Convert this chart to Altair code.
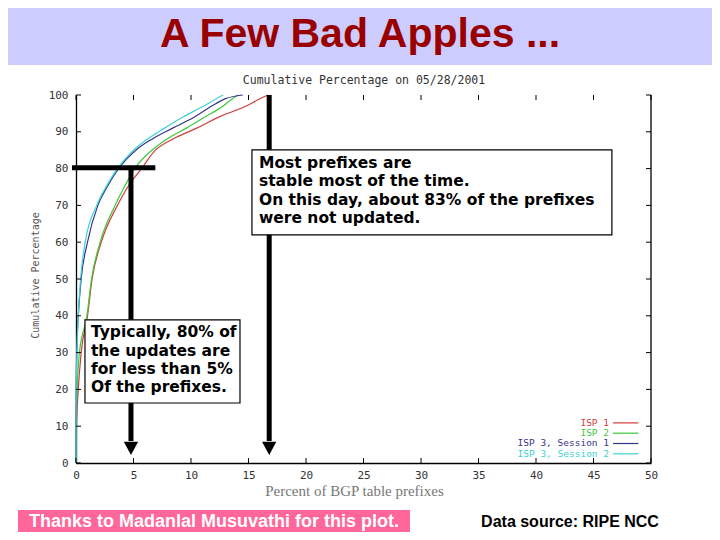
import altair as alt
import pandas as pd

# ---------------- data ----------------
slide_title = "A Few Bad Apples ..."
plot_title = "Cumulative Percentage on 05/28/2001"
x_title = "Percent of BGP table prefixes"
y_title = "Cumulative Percentage"
credit_text = "Thanks to Madanlal Musuvathi for this plot."
source_text = "Data source: RIPE NCC"

series_names = ["ISP 1", "ISP 2", "ISP 3, Session 1", "ISP 3, Session 2"]
series_colors = ["#d03c3c", "#3cc83c", "#34348c", "#3cd2d2"]

x_ticks = [0, 5, 10, 15, 20, 25, 30, 35, 40, 45, 50]
y_ticks = [0, 10, 20, 30, 40, 50, 60, 70, 80, 90, 100]

cum_levels = [0, 10, 20, 30, 40, 50, 60, 70, 75, 80, 85, 88, 91, 94, 97, 99, 100]
isp1_pct = [0.0, 0.05, 0.2, 0.45, 1.0, 1.4, 2.2, 3.6, 4.5, 5.7, 6.9, 8.4, 10.5, 12.4, 14.8, 16.0, 16.7]
isp2_pct = [0.0, 0.01, 0.1, 0.3, 0.95, 1.35, 2.1, 3.4, 4.2, 5.1, 6.6, 7.9, 9.6, 11.2, 12.8, 13.6, 14.1]
isp3s1_pct = [0.0, 0.005, 0.02, 0.06, 0.2, 0.45, 1.0, 1.9, 2.7, 3.7, 5.2, 6.6, 8.4, 10.3, 11.8, 13.0, 14.5]
isp3s2_pct = [0.0, 0.004, 0.02, 0.08, 0.2, 0.4, 0.8, 1.8, 2.6, 3.6, 5.0, 6.2, 7.7, 9.3, 11.1, 12.2, 12.8]

note_top = ["Most prefixes are", "stable most of the time.",
            "On this day, about 83% of the prefixes", "were not updated."]
note_bottom = ["Typically, 80% of", "the updates are", "for less than 5%", "Of the prefixes."]

# ---------------- tables ----------------
rows = []
for name, pcts in zip(series_names, [isp1_pct, isp2_pct, isp3s1_pct, isp3s2_pct]):
    for i, (c, p) in enumerate(zip(cum_levels, pcts)):
        rows.append({"series": name, "pct": p, "cum": c, "step": i})
curves = pd.DataFrame(rows)

legend_df = pd.DataFrame({
    "series": series_names,
    "pct": [46.35] * 4,
    "pct_a": [46.7] * 4,
    "pct_b": [48.9] * 4,
    "cum": [10.9 - 2.8 * i for i in range(4)],
})

W, H = 575, 368
xsc = alt.Scale(domain=[0, 50], nice=False, zero=False)
ysc = alt.Scale(domain=[0, 100], nice=False, zero=False)
csc = alt.Scale(domain=series_names, range=series_colors)

x_axis = alt.Axis(values=x_ticks, title=x_title, ticks=False, grid=False,
                  domainColor="black", domainWidth=1.3,
                  labelFont="DejaVu Sans Mono", labelFontSize=11, labelColor="#333",
                  labelPadding=6, labelFlush=False,
                  titleFont="Liberation Serif", titleFontSize=15, titleFontWeight="normal",
                  titleColor="#777", titleX=278, titleY=27, titleBaseline="middle",
                  titleAlign="center")
y_axis = alt.Axis(values=y_ticks, title=y_title, ticks=False, grid=False,
                  domainColor="black", domainWidth=1.3,
                  labelFont="DejaVu Sans Mono", labelFontSize=11, labelColor="#333",
                  labelPadding=8, labelFlush=False,
                  titleFont="DejaVu Sans Mono", titleFontSize=10, titleFontWeight="normal",
                  titleColor="#555", titleX=-41, titleY=180, titleAngle=270,
                  titleBaseline="middle", titleAlign="center")


def X(f="pct"):
    return alt.X(f"{f}:Q", scale=xsc, axis=x_axis)


def Y(f="cum"):
    return alt.Y(f"{f}:Q", scale=ysc, axis=y_axis)


one = pd.DataFrame({"k": [0]})

# curves
curve_layer = alt.Chart(curves).mark_line(strokeWidth=1.2, interpolate="monotone").encode(
    x=X(), y=Y(),
    color=alt.Color("series:N", scale=csc, legend=None),
    order=alt.Order("step:Q"),
)

# right border
right_border = alt.Chart(pd.DataFrame({"pct": [50], "cum": [0], "cum2": [100]})).mark_rule(
    color="black", strokeWidth=1.3).encode(x=X(), y=Y(), y2="cum2:Q")

# inward ticks
xt = pd.DataFrame({"pct": x_ticks})
yt = pd.DataFrame({"cum": y_ticks})
tick_bottom = alt.Chart(xt).mark_rule(color="black").encode(
    x=X(), y=alt.value(H), y2=alt.value(H - 5))
tick_top = alt.Chart(xt).mark_rule(color="black").encode(
    x=X(), y=alt.value(0), y2=alt.value(5))
tick_left = alt.Chart(yt).mark_rule(color="black").encode(
    y=Y(), x=alt.value(0), x2=alt.value(5))
tick_right = alt.Chart(yt).mark_rule(color="black").encode(
    y=Y(), x=alt.value(W), x2=alt.value(W - 5))

# legend (gnuplot style: label left, line right)
legend_text = alt.Chart(legend_df).mark_text(
    align="right", baseline="middle", font="DejaVu Sans Mono", fontSize=9.5).encode(
    x=X(), y=Y(), text="series:N",
    color=alt.Color("series:N", scale=csc, legend=None))
legend_lines = alt.Chart(legend_df).mark_rule(strokeWidth=1.2).encode(
    x=X("pct_a"), x2="pct_b:Q", y=Y(),
    color=alt.Color("series:N", scale=csc, legend=None))

# annotations
hbar = alt.Chart(pd.DataFrame({"pct": [-0.35], "pct2": [6.9], "cum": [80.2]})).mark_rule(
    color="black", strokeWidth=5).encode(x=X(), x2="pct2:Q", y=Y())
arrows = alt.Chart(pd.DataFrame({"pct": [4.78, 16.8], "cum": [80.2, 100], "cum2": [6, 6]})).mark_rule(
    color="black", strokeWidth=5).encode(x=X(), y=Y(), y2="cum2:Q")
heads = alt.Chart(pd.DataFrame({"pct": [4.78, 16.8], "cum": [4.0, 4.0]})).mark_point(
    shape="M-1,-0.93L1,-0.93L0,0.93Z", filled=True, size=204, color="black", opacity=1).encode(
    x=X(), y=Y())

boxes = alt.Chart(pd.DataFrame({"pct": [15.3, 0.78], "pct2": [46.6, 14.26],
                                "cum": [85.1, 38.9], "cum2": [62.0, 16.3]})).mark_rect(
    fill="white", stroke="black", strokeWidth=1.2).encode(
    x=X(), x2="pct2:Q", y=Y(), y2="cum2:Q")

notes_df = pd.DataFrame(
    [{"pct": 15.91, "cum": 80.16 - 4.99 * i, "text": t} for i, t in enumerate(note_top)]
    + [{"pct": 1.3, "cum": 34.2 - 5.0 * i, "text": t} for i, t in enumerate(note_bottom)])
notes = alt.Chart(notes_df).mark_text(
    align="left", baseline="alphabetic", font="DejaVu Sans", fontWeight="bold",
    fontSize=15.5, color="black").encode(x=X(), y=Y(), text="text:N")

# slide decorations
title_bar = alt.Chart(one).mark_rect(color="#CCCCFF").encode(
    x=alt.value(-68), x2=alt.value(636), y=alt.value(-87), y2=alt.value(-30))
title_txt = alt.Chart(one).mark_text(
    font="Liberation Sans", fontWeight="bold", fontSize=41, color="#990000",
    align="center", baseline="alphabetic").encode(
    x=alt.value(284), y=alt.value(-48), text=alt.value(slide_title))
sub_txt = alt.Chart(one).mark_text(
    font="DejaVu Sans Mono", fontSize=11.5, color="#333",
    align="center", baseline="alphabetic").encode(
    x=alt.value(288), y=alt.value(-11), text=alt.value(plot_title))
pink = alt.Chart(one).mark_rect(color="#FF6699").encode(
    x=alt.value(-58), x2=alt.value(334), y=alt.value(415), y2=alt.value(437))
credit = alt.Chart(one).mark_text(
    font="Liberation Sans", fontWeight="bold", fontSize=18, color="white",
    align="center", baseline="alphabetic").encode(
    x=alt.value(138), y=alt.value(432), text=alt.value(credit_text))
source = alt.Chart(one).mark_text(
    font="Liberation Sans", fontWeight="bold", fontSize=16, color="black",
    align="center", baseline="alphabetic").encode(
    x=alt.value(494), y=alt.value(432), text=alt.value(source_text))

chart = alt.layer(
    title_bar, title_txt, sub_txt, pink, credit, source,
    curve_layer, right_border, tick_bottom, tick_top, tick_left, tick_right,
    legend_text, legend_lines, hbar, arrows, heads, boxes, notes,
).properties(
    width=W, height=H,
    autosize=alt.AutoSizeParams(type="none"),
    padding={"left": 68, "top": 87, "right": 61, "bottom": 69},
    background="white",
).configure_view(stroke=None)

chart.save("out.html", embed_options={"renderer": "svg", "actions": False})
